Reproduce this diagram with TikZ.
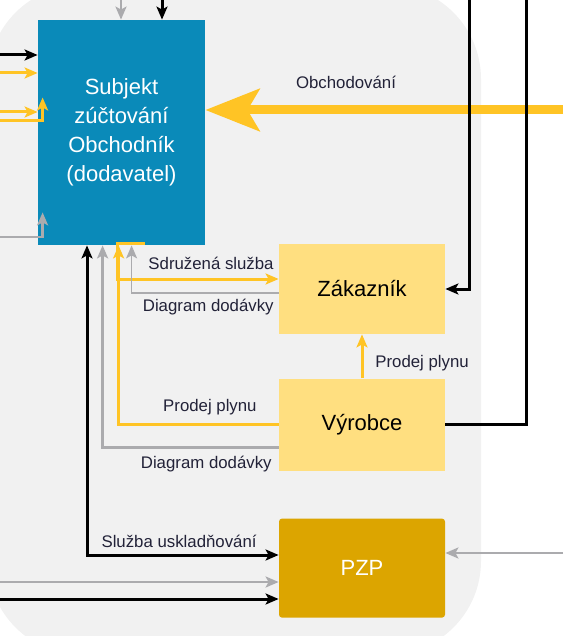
\documentclass[tikz,border=0pt]{standalone}
\usepackage{fontspec}
\setmainfont{Liberation Sans}
\usepackage{tikz}
\usetikzlibrary{positioning, arrows.meta, calc}
\definecolor{bg_gray}{HTML}{F1F1F1}
\definecolor{subj_blue}{HTML}{0A8AB9}
\definecolor{light_yellow}{HTML}{FFDF80}
\definecolor{pzp_gold}{HTML}{DCA500}
\definecolor{flow_yellow}{HTML}{FFC425}
\definecolor{flow_gray}{HTML}{ABABAE}
\definecolor{label_text}{HTML}{222238}
\tikzset{tip/.style={-{Stealth[length=6.5pt, width=5.5pt, inset=1.5pt]}}}

\begin{document}
\begin{tikzpicture}[
            x=0.5pt, y=-0.5pt,
            block/.style={rectangle, minimum width=83pt, align=center, inner sep=0pt, font=\fontsize{11}{14.5}\selectfont},
            lbl/.style={font=\fontsize{8.4}{10}\selectfont, text=label_text, inner sep=0pt},
            blackflow/.style={draw=black, line width=1.5pt, tip},
            blackboth/.style={draw=black, line width=1.5pt, {Stealth[length=6.5pt, width=5.5pt, inset=1.5pt]}-{Stealth[length=6.5pt, width=5.5pt, inset=1.5pt]}},
            grayflow/.style={draw=flow_gray, line width=1.4pt, tip},
            thingray/.style={draw=flow_gray, line width=0.7pt, tip},
            yellowflow/.style={draw=flow_yellow, line width=1.5pt, tip},
            tradeflow/.style={draw=flow_yellow, line width=4.5pt, -{Stealth[length=27pt, width=21pt, inset=6pt]}}
        ]
            \useasboundingbox (0,0) rectangle (563,636);
            \clip (0,0) rectangle (563,636);
            % Background panel
            \fill[bg_gray, rounded corners=47pt] (-12,-15) rectangle (481,655);

            % Boxes
            \node[block, fill=subj_blue, text=white, minimum width=83.5pt, minimum height=112.5pt] (subj) at (121.5,132.5) {Subjekt\\zúčtování\\Obchodník\\(dodavatel)};
            \node[block, fill=light_yellow, minimum height=45pt] (zak) at (362,289) {Zákazník};
            \node[block, fill=light_yellow, minimum height=46pt, below=22pt of zak] (vyr) {Výrobce};
            \node[block, fill=pzp_gold, text=white, minimum height=49.5pt, rounded corners=1.5pt, below=23.5pt of vyr] (pzp) {PZP};

            % Free ends at the border
            \coordinate (topGray) at (121,0);
            \coordinate (topBlack) at (162,0);
            \coordinate (inBlack) at (0,55);
            \coordinate (inYellowA) at (0,73);
            \coordinate (inYellowB) at (0,112);
            \coordinate (inYellowC) at (0,121);
            \coordinate (inGray) at (0,237);
            \coordinate (trade) at (563,110);
            \coordinate (rightA) at (469,0);
            \coordinate (rightB) at (526,0);
            \coordinate (pzpRight) at (563,553);
            \coordinate (pzpGray) at (0,582);
            \coordinate (pzpBlack) at (0,599);
            \coordinate (storeCorner) at (87,555);

            % Inputs of the subject
            \draw[grayflow] (topGray) -- (topGray |- subj.north);
            \draw[blackflow] (topBlack) -- (topBlack |- subj.north);
            \draw[blackflow] (inBlack) -- (inBlack -| subj.west);
            \draw[yellowflow] (inYellowA) -- (inYellowA -| subj.west);
            \draw[yellowflow] (inYellowB) -- (inYellowB -| subj.west);
            \draw[yellowflow] (inYellowC) -| ($(subj.west)+(5,-35)$);
            \draw[grayflow] (inGray) -| ($(subj.south west)+(5,-33)$);

            % Trading
            \draw[tradeflow] (trade) -- (trade -| subj.east);
            \node[lbl] (tradeLbl) at (346,82) {Obchodování};

            % Customer and producer
            \draw[yellowflow] ($(subj.south west)+(107,-2)$) -- ($(subj.south west)+(80,-2)$) |- ($(zak.west)+(0,-10)$);
            \draw[thingray] ($(zak.west)+(0,4)$) -| ($(subj.south west)+(94,0)$);
            \draw[yellowflow] (vyr.west) -| ($(subj.south west)+(81,0)$);
            \draw[grayflow] ($(vyr.west)+(0,23)$) -| ($(subj.south west)+(65,0)$);
            \draw[yellowflow] (vyr.north) -- (zak.south);
            \node[lbl, anchor=east] (sumLbl) at (274,263) {Sdružená služba};
            \node[lbl, anchor=east] (diagLblA) at (274,307) {Diagram dodávky};
            \node[lbl, anchor=east] (sellLblA) at (257,407) {Prodej plynu};
            \node[lbl, anchor=east] (diagLblB) at (272,464) {Diagram dodávky};
            \node[lbl, anchor=west] (sellLblB) at (375,363) {Prodej plynu};

            % Right side
            \draw[blackflow] (rightA) |- (zak.east);
            \draw[black, line width=1.5pt] (rightB) |- (vyr.east);

            % Storage
            \draw[blackboth] (storeCorner |- subj.south) -- (storeCorner) -- (storeCorner -| pzp.west);
            \node[lbl, anchor=east] (storeLbl) at (257,541) {Služba uskladňování};
            \draw[grayflow] (pzpRight) -- (pzpRight -| pzp.east);
            \draw[grayflow] (pzpGray) -- (pzpGray -| pzp.west);
            \draw[blackflow] (pzpBlack) -- (pzpBlack -| pzp.west);
        \end{tikzpicture}
\end{document}
